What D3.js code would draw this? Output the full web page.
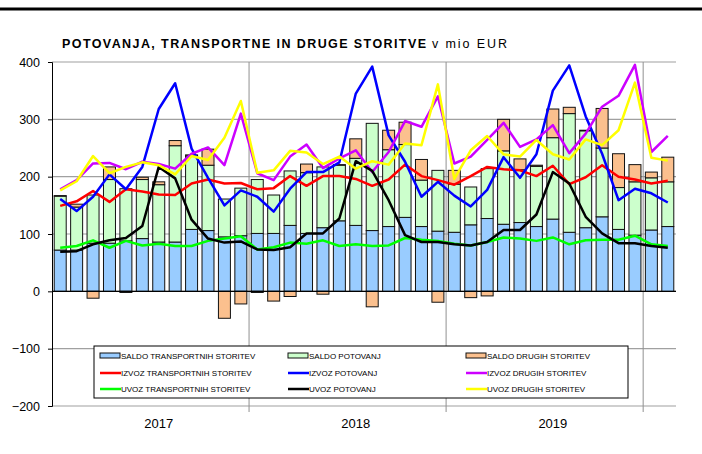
<!DOCTYPE html>
<html>
<head>
<meta charset="utf-8">
<script src="https://cdn.jsdelivr.net/npm/d3@7"></script>
<style>
  body { margin: 0; background: #fff; }
  text { font-family: "Liberation Sans", Arial, sans-serif; }
</style>
</head>
<body>
<div id="chart"></div>
<script>
// months Jan 2017 - Feb 2020
var months = [
  "2017-01","2017-02","2017-03","2017-04","2017-05","2017-06","2017-07","2017-08","2017-09","2017-10","2017-11","2017-12",
  "2018-01","2018-02","2018-03","2018-04","2018-05","2018-06","2018-07","2018-08","2018-09","2018-10","2018-11","2018-12",
  "2019-01","2019-02","2019-03","2019-04","2019-05","2019-06","2019-07","2019-08","2019-09","2019-10","2019-11","2019-12",
  "2020-01","2020-02"
];
var yearLabels = ["2017", "2018", "2019"];
var yTicks = [-200, -100, 0, 100, 200, 300, 400];

// bars (saldo)
var saldoTransport = [72,72,84,84,88,92,86,86,108,106,95,97,101,101,115,101,111,123,115,106,113,129,113,105,103,116,127,117,120,113,126,103,111,130,108,98,107,113];
var saldoPotovanj  = [94,75,84,111,91,103,100,168,128,114,66,83,94,67,95,106,106,97,117,187,134,127,81,106,84,66,87,128,92,105,142,207,169,120,73,93,91,78];
var saldoDrugih    = [1,5,-12,22,-2,4,5,9,2,28,-47,-22,-2,-17,-9,15,-5,1,34,-27,34,39,36,-19,24,-11,-8,55,19,2,50,11,1,69,59,30,10,43];

// lines
var izvozTransport = [149,157,175,156,178,174,169,168,188,195,188,189,178,180,201,184,201,201,196,184,195,221,201,194,186,201,217,213,211,201,219,187,199,220,200,195,188,193];
var izvozPotovanj  = [161,140,165,204,178,217,318,363,249,198,150,176,165,139,179,208,208,225,345,392,272,226,165,191,167,148,177,234,198,239,350,394,305,240,159,179,171,155];
var izvozDrugih    = [178,194,223,224,213,226,222,214,240,251,220,310,206,194,235,256,215,232,246,208,243,297,287,340,223,235,264,294,252,265,290,241,275,322,341,395,243,271];
var uvozTransport  = [76,79,89,76,88,80,83,79,79,88,92,96,73,77,85,83,89,79,82,79,80,93,90,88,83,80,86,94,92,88,94,82,89,90,90,97,82,79];
var uvozPotovanj   = [69,70,82,89,93,114,217,197,125,92,85,87,73,72,77,101,101,127,227,210,159,98,86,86,82,80,86,107,107,134,208,188,130,101,84,84,79,76];
var uvozDrugih     = [176,192,236,206,217,225,220,204,236,229,268,332,207,211,245,242,222,235,214,227,221,258,255,361,196,246,271,239,235,264,239,230,265,255,281,364,233,228];

var barSeries = [
  { key: "st", name: "SALDO TRANSPORTNIH STORITEV", values: saldoTransport, color: "#99CCFF" },
  { key: "sp", name: "SALDO POTOVANJ", values: saldoPotovanj, color: "#CCFFCC" },
  { key: "sd", name: "SALDO DRUGIH STORITEV", values: saldoDrugih, color: "#FBC08E" }
];
var lineSeries = [
  { name: "IZVOZ TRANSPORTNIH STORITEV", values: izvozTransport, color: "#FF0000" },
  { name: "IZVOZ POTOVANJ", values: izvozPotovanj, color: "#0000FF" },
  { name: "IZVOZ DRUGIH STORITEV", values: izvozDrugih, color: "#CC00FF" },
  { name: "UVOZ TRANSPORTNIH STORITEV", values: uvozTransport, color: "#00FF00" },
  { name: "UVOZ POTOVANJ", values: uvozPotovanj, color: "#000000" },
  { name: "UVOZ DRUGIH STORITEV", values: uvozDrugih, color: "#FFFF00" }
];

var W = 702, H = 454;
var plotL = 52, plotR = 676, plotT = 62, plotB = 406;

var svg = d3.select("#chart").append("svg")
  .attr("width", W).attr("height", H);

// thick rule at the top
svg.append("line")
  .attr("x1", 0).attr("x2", W).attr("y1", 9).attr("y2", 9)
  .attr("stroke", "#000").attr("stroke-width", 3);

// title (stretched like the original)
svg.append("text").attr("x", 62).attr("y", 48)
  .style("font-size", "12.5px").style("font-weight", "bold")
  .attr("textLength", 364).attr("lengthAdjust", "spacing")
  .text("POTOVANJA, TRANSPORTNE IN DRUGE STORITVE");
svg.append("text").attr("x", 432).attr("y", 48)
  .style("font-size", "12.5px")
  .attr("textLength", 75).attr("lengthAdjust", "spacing")
  .text("v mio EUR");

var x = d3.scaleBand().domain(months).range([plotL, plotR]).paddingInner(0.27).paddingOuter(0.135);
var y = d3.scaleLinear().domain([-200, 400]).range([plotB, plotT]);

// horizontal gridlines
svg.append("g")
  .selectAll("line").data(yTicks).enter().append("line")
  .attr("x1", plotL).attr("x2", plotR)
  .attr("y1", function(d) { return y(d); }).attr("y2", function(d) { return y(d); })
  .attr("stroke", "#a0a0a0").attr("stroke-width", 1.2);

// vertical year separators
var sepIdx = [12, 24, 36];
svg.append("g")
  .selectAll("line").data(sepIdx).enter().append("line")
  .attr("x1", function(i) { return x(months[i]) - x.step() * x.paddingInner() / 2; })
  .attr("x2", function(i) { return x(months[i]) - x.step() * x.paddingInner() / 2; })
  .attr("y1", plotT).attr("y2", plotB + 6)
  .attr("stroke", "#909090").attr("stroke-width", 1);

// stacked bars
var table = months.map(function(m, i) {
  var row = { month: m };
  barSeries.forEach(function(s) { row[s.key] = s.values[i]; });
  return row;
});
var stack = d3.stack().keys(barSeries.map(function(s) { return s.key; }))
  .offset(d3.stackOffsetDiverging);
var layers = stack(table);

svg.append("g").selectAll("g").data(layers).enter().append("g")
  .attr("fill", function(d, i) { return barSeries[i].color; })
  .selectAll("rect").data(function(d) { return d; }).enter().append("rect")
  .attr("x", function(d) { return x(d.data.month); })
  .attr("width", x.bandwidth())
  .attr("y", function(d) { return y(Math.max(d[0], d[1])); })
  .attr("height", function(d) { return Math.abs(y(d[0]) - y(d[1])); })
  .attr("stroke", "#111").attr("stroke-width", 1);

// zero line and left axis
svg.append("line")
  .attr("x1", plotL).attr("x2", plotR).attr("y1", y(0)).attr("y2", y(0))
  .attr("stroke", "#000").attr("stroke-width", 1.2);

var yAxis = svg.append("g")
  .attr("transform", "translate(" + plotL + ",0)")
  .call(d3.axisLeft(y).tickValues(yTicks).tickSize(4).tickPadding(8));
yAxis.select(".domain").attr("stroke", "#000");
yAxis.selectAll("text").style("font-size", "12.5px").style("font-family", "Liberation Sans, Arial, sans-serif").attr("fill", "#000");

// lines
var line = d3.line()
  .x(function(d, i) { return x(months[i]) + x.bandwidth() / 2; })
  .y(function(d) { return y(d); });

lineSeries.forEach(function(s) {
  svg.append("path")
    .datum(s.values)
    .attr("fill", "none")
    .attr("stroke", s.color)
    .attr("stroke-width", 2.5)
    .attr("stroke-linejoin", "round")
    .attr("d", line);
});

// year labels under July of each year
svg.append("g").selectAll("text").data(yearLabels).enter().append("text")
  .attr("x", function(d, i) { return x(months[i * 12 + 6]) + x.bandwidth() / 2; })
  .attr("y", 428)
  .attr("text-anchor", "middle")
  .style("font-size", "13px")
  .text(function(d) { return d; });

// legend
var lg = svg.append("g");
lg.append("rect")
  .attr("x", 94).attr("y", 346).attr("width", 534).attr("height", 52)
  .attr("fill", "#fff").attr("stroke", "#000").attr("stroke-width", 1);

var colX = [100, 288, 466];
var rowY = [356, 373, 389];
var entries = barSeries.map(function(s) { return { s: s, bar: true }; })
  .concat(lineSeries.map(function(s) { return { s: s, bar: false }; }));

entries.forEach(function(e, k) {
  var cx = colX[k % 3], cy = rowY[Math.floor(k / 3)];
  if (e.bar) {
    lg.append("rect").attr("x", cx).attr("y", cy - 3).attr("width", 20).attr("height", 5)
      .attr("fill", e.s.color).attr("stroke", "#111").attr("stroke-width", 1);
  } else {
    lg.append("line").attr("x1", cx).attr("x2", cx + 21).attr("y1", cy).attr("y2", cy)
      .attr("stroke", e.s.color).attr("stroke-width", 2.5);
  }
  lg.append("text").attr("x", cx + 21).attr("y", cy + 3)
    .style("font-size", "8px")
    .text(e.s.name);
});
</script>
</body>
</html>
